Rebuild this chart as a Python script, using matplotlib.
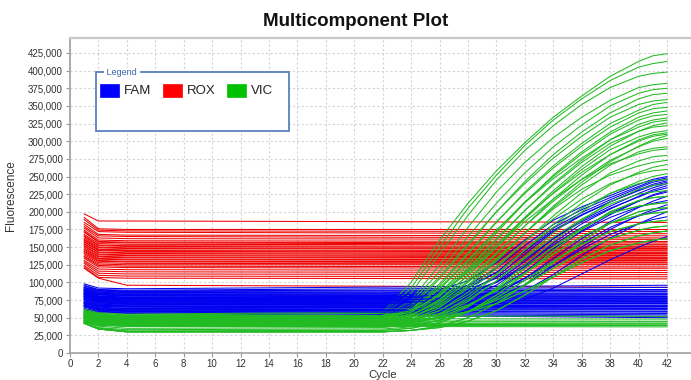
import numpy as np
import matplotlib
matplotlib.use("Agg")
import matplotlib.pyplot as plt
from matplotlib.patches import Rectangle
from matplotlib.ticker import FuncFormatter

plt.rcParams['font.family'] = ['Liberation Sans', 'DejaVu Sans']

# cycles where each trace has a reading; fluorescence values are in thousands
flat_cycles = [1, 2, 4, 42]
amp_cycles = [1, 2, 4, 22, 24, 26, 28, 30, 32, 34, 36, 38, 40, 41, 42]

rox_flat = [
    [197, 187, 187, 185], [192, 176, 175, 175], [189, 174, 173, 172],
    [185, 172, 171, 169], [182, 168, 167, 166], [179, 166, 165, 163],
    [177, 163, 162, 161], [174, 160, 159, 158], [172, 158, 157, 156],
    [171, 157, 156, 154], [168, 155, 154, 153], [166, 153, 152, 151],
    [165, 152, 151, 149], [163, 150, 149, 148], [161, 149, 148, 147],
    [160, 147, 146, 145], [158, 146, 145, 143], [157, 145, 144, 142],
    [155, 143, 142, 141], [154, 142, 141, 139], [152, 140, 139, 138],
    [151, 139, 138, 136], [149, 137, 136, 135], [147, 136, 135, 134],
    [146, 134, 133, 132], [144, 133, 132, 131], [143, 131, 130, 129],
    [141, 130, 129, 128], [139, 128, 127, 126], [137, 126, 125, 125],
    [136, 124, 123, 122], [134, 122, 121, 120], [131, 119, 118, 117],
    [129, 116, 115, 114], [127, 113, 112, 111], [124, 110, 109, 108],
    [122, 107, 106, 105], [120, 106, 96, 93],
]

fam_flat = [
    [98, 92, 91, 96], [96, 90, 89, 93], [95, 89, 88, 90], [93, 88, 87, 89],
    [92, 87, 86, 87], [91, 86, 85, 85], [90, 84, 84, 83], [89, 84, 83, 84],
    [88, 83, 82, 81], [87, 82, 81, 80], [86, 80, 79, 79], [85, 80, 79, 77],
    [84, 79, 78, 78], [83, 78, 77, 76], [82, 77, 76, 74], [81, 76, 75, 75],
    [80, 75, 74, 73], [79, 74, 73, 72], [78, 73, 72, 71], [77, 72, 71, 70],
    [76, 71, 70, 70], [75, 70, 69, 68], [74, 69, 68, 67], [73, 68, 67, 66],
    [72, 67, 66, 66], [71, 66, 65, 64], [70, 66, 65, 63], [69, 64, 63, 62],
    [68, 63, 62, 61], [67, 62, 61, 59], [66, 61, 60, 58], [65, 60, 59, 56],
    [63, 59, 58, 54], [62, 58, 57, 52], [61, 57, 56, 50],
]

vic_flat = [
    [58, 54, 53, 52], [55, 50, 49, 48], [52, 47, 46, 45], [50, 45, 44, 44],
    [48, 43, 42, 42], [46, 42, 41, 40], [45, 40, 39, 39], [44, 39, 38, 37],
]

fam_amp = [
    [93, 88, 86, 85, 86, 90, 102, 128, 160, 188, 207, 223, 239, 246, 250],
    [88, 83, 81, 80, 81, 85, 96, 120, 152, 182, 203, 220, 236, 244, 248],
    [86, 81, 79, 78, 79, 82, 92, 114, 146, 177, 199, 217, 234, 242, 246],
    [83, 78, 76, 75, 76, 79, 88, 108, 140, 172, 195, 214, 231, 239, 244],
    [90, 85, 83, 82, 83, 86, 95, 114, 144, 174, 196, 214, 230, 237, 242],
    [80, 75, 73, 72, 73, 75, 83, 101, 130, 162, 188, 208, 226, 234, 240],
    [78, 73, 71, 70, 71, 73, 80, 96, 124, 156, 183, 204, 222, 231, 237],
    [85, 80, 78, 77, 78, 81, 89, 106, 133, 162, 186, 205, 221, 229, 234],
    [76, 71, 69, 68, 68, 70, 76, 90, 115, 145, 173, 196, 215, 224, 230],
    [82, 77, 75, 74, 75, 77, 84, 100, 125, 153, 178, 198, 215, 223, 228],
    [72, 68, 66, 65, 65, 67, 72, 84, 106, 134, 162, 186, 206, 215, 222],
    [88, 83, 81, 80, 80, 82, 87, 100, 122, 148, 172, 192, 207, 212, 216],
    [70, 65, 63, 62, 62, 64, 68, 78, 97, 123, 150, 175, 195, 203, 210],
    [80, 75, 73, 72, 72, 74, 78, 88, 106, 130, 155, 178, 194, 200, 205],
    [67, 63, 61, 60, 60, 61, 64, 72, 88, 111, 138, 163, 183, 192, 200],
    [84, 79, 77, 76, 76, 77, 80, 88, 103, 124, 147, 168, 183, 189, 193],
    [66, 61, 59, 58, 58, 59, 61, 66, 76, 92, 112, 132, 150, 158, 165],
]

vic_amp = [
    [62, 57, 55, 58, 100, 160, 212, 258, 298, 334, 364, 392, 413, 421, 424],
    [60, 56, 54, 56, 92, 150, 205, 252, 294, 330, 360, 386, 405, 410, 413],
    [58, 54, 52, 53, 85, 140, 195, 245, 287, 322, 352, 376, 392, 396, 398],
    [57, 52, 50, 51, 75, 125, 178, 228, 270, 305, 334, 358, 376, 380, 382],
    [59, 54, 52, 53, 72, 115, 165, 212, 255, 292, 323, 350, 368, 373, 375],
    [55, 50, 48, 49, 65, 105, 152, 200, 243, 281, 313, 340, 360, 366, 368],
    [57, 52, 50, 50, 68, 108, 155, 200, 240, 276, 307, 334, 352, 357, 359],
    [53, 48, 46, 46, 60, 95, 140, 185, 228, 265, 297, 325, 344, 352, 355],
    [55, 50, 48, 48, 62, 98, 142, 186, 226, 262, 293, 320, 340, 346, 348],
    [52, 47, 45, 45, 56, 85, 125, 170, 213, 252, 285, 313, 334, 340, 343],
    [57, 52, 50, 50, 60, 90, 130, 173, 214, 250, 282, 310, 330, 336, 338],
    [54, 49, 47, 47, 55, 80, 118, 160, 202, 240, 273, 302, 324, 330, 333],
    [59, 54, 52, 52, 62, 92, 132, 174, 213, 247, 276, 302, 320, 327, 330],
    [50, 46, 44, 44, 52, 75, 110, 150, 192, 230, 264, 293, 314, 322, 326],
    [56, 51, 49, 49, 58, 84, 120, 162, 202, 238, 270, 297, 314, 320, 322],
    [53, 48, 46, 46, 53, 76, 110, 150, 190, 227, 260, 288, 306, 312, 315],
    [49, 45, 43, 43, 50, 70, 102, 140, 180, 218, 252, 281, 302, 309, 312],
    [57, 52, 50, 50, 58, 82, 116, 154, 192, 226, 256, 281, 300, 307, 310],
    [47, 43, 41, 41, 47, 64, 94, 130, 170, 208, 242, 271, 293, 302, 308],
    [54, 49, 47, 47, 54, 74, 105, 142, 180, 215, 246, 273, 292, 300, 304],
    [50, 46, 44, 44, 50, 68, 96, 132, 170, 206, 238, 266, 285, 290, 292],
    [60, 55, 52, 52, 60, 82, 114, 150, 186, 218, 246, 268, 282, 287, 289],
    [46, 42, 40, 40, 45, 60, 86, 120, 158, 194, 227, 255, 272, 278, 280],
    [55, 50, 48, 48, 54, 72, 100, 134, 170, 204, 232, 252, 265, 270, 273],
    [45, 40, 38, 38, 42, 55, 78, 110, 146, 182, 212, 238, 256, 263, 267],
    [53, 48, 46, 46, 51, 66, 91, 123, 158, 190, 218, 240, 254, 258, 260],
    [44, 38, 35, 36, 40, 52, 73, 102, 136, 170, 200, 226, 243, 250, 254],
    [51, 46, 44, 44, 48, 60, 82, 112, 146, 178, 205, 226, 240, 244, 246],
    [43, 36, 33, 34, 37, 47, 65, 92, 125, 158, 188, 214, 232, 237, 240],
    [49, 44, 42, 42, 46, 56, 75, 102, 134, 164, 190, 211, 225, 228, 230],
    [43, 35, 31, 32, 35, 43, 58, 82, 112, 145, 175, 200, 216, 220, 222],
    [47, 42, 40, 40, 43, 51, 66, 90, 120, 150, 177, 198, 208, 211, 213],
    [42, 34, 30, 30, 32, 38, 50, 70, 97, 128, 158, 184, 200, 204, 206],
    [52, 47, 45, 45, 48, 55, 68, 88, 113, 140, 165, 184, 195, 198, 200],
    [44, 40, 38, 38, 40, 46, 58, 78, 103, 130, 154, 172, 183, 186, 188],
    [49, 44, 42, 42, 44, 49, 59, 75, 96, 120, 143, 162, 174, 178, 180],
    [42, 34, 30, 30, 32, 36, 45, 60, 82, 108, 133, 153, 166, 170, 173],
    [51, 46, 44, 44, 46, 50, 58, 70, 88, 108, 128, 145, 156, 160, 162],
]

dyes = ['FAM', 'ROX', 'VIC']
dye_colors = {'FAM': '#0000f0', 'ROX': '#ee0000', 'VIC': '#22bb22'}
legend_colors = {'FAM': '#0000ff', 'ROX': '#ff0000', 'VIC': '#00c000'}

W, H = 691, 380
fig = plt.figure(figsize=(W / 100, H / 100), dpi=100)
ax = fig.add_axes([70 / W, 27 / H, 621 / W, 315 / H])

lw = 0.75
for row in rox_flat:
    ax.plot(flat_cycles, np.array(row) * 1000, color=dye_colors['ROX'], lw=lw)
for row in fam_flat:
    ax.plot(flat_cycles, np.array(row) * 1000, color=dye_colors['FAM'], lw=lw)
for row in vic_flat:
    ax.plot(flat_cycles, np.array(row) * 1000, color=dye_colors['VIC'], lw=lw)
for i in range(max(len(fam_amp), len(vic_amp))):
    if i < len(fam_amp):
        ax.plot(amp_cycles, np.array(fam_amp[i]) * 1000, color=dye_colors['FAM'], lw=lw)
    if i < len(vic_amp):
        ax.plot(amp_cycles, np.array(vic_amp[i]) * 1000, color=dye_colors['VIC'], lw=lw)
# late greens drawn again so they cross over the blue traces
for row in vic_amp[-8:]:
    ax.plot(amp_cycles, np.array(row) * 1000, color=dye_colors['VIC'], lw=lw)

ax.set_xlim(0, 43.69)
ax.set_ylim(0, 446250)
ax.set_xticks(np.arange(0, 43, 2))
ax.set_yticks(np.arange(0, 425001, 25000))
ax.yaxis.set_major_formatter(FuncFormatter(lambda v, p: f'{v:,.0f}'))
ax.grid(True, color='#d4d4d4', linestyle=(0, (2, 2)), linewidth=0.8)
ax.set_axisbelow(True)
ax.tick_params(length=3, width=0.8, color='#9a9a9a', labelsize=7,
               labelcolor='#333333', pad=2)
ax.tick_params(axis='x', pad=1.5)
for s in ['left', 'bottom']:
    ax.spines[s].set_color('#a0a0a0')
    ax.spines[s].set_linewidth(1.2)
ax.spines['top'].set_color('#c8c8c8')
ax.spines['top'].set_linewidth(1.6)
ax.spines['right'].set_visible(False)

ax.set_ylabel('Fluorescence', fontsize=8.5, color='#333333', labelpad=8)
# x label sits right at the bottom edge
fig.text(382.5 / W, 2.5 / H, 'Cycle', ha='center', va='baseline',
         fontsize=8.2, color='#333333')
fig.text(355.5 / W, 1 - 22 / H, 'Multicomponent Plot', ha='center', va='center',
         fontsize=13.5, fontweight='bold', color='#111111')

# legend box drawn as a framed group
def fx(px):
    return px / W

def fy(py):
    return 1 - py / H

fig.add_artist(Rectangle((fx(96), fy(131)), fx(289) - fx(96), fy(72) - fy(131),
                         transform=fig.transFigure, facecolor='white',
                         edgecolor='#5b80c0', lw=1.3, zorder=5))
fig.text(fx(104), fy(72.5), ' Legend ', fontsize=6.5, color='#3b62aa', va='center',
         ha='left', zorder=6,
         bbox=dict(facecolor='white', edgecolor='none', pad=0.2))
patch_x = [100, 163, 227]
for name, px in zip(dyes, patch_x):
    fig.add_artist(Rectangle((fx(px), fy(97)), fx(19), 13 / H, transform=fig.transFigure,
                             facecolor=legend_colors[name], edgecolor=legend_colors[name],
                             lw=0.5, zorder=6))
    fig.text(fx(px + 24), fy(91), name, fontsize=9.5, color='#222222',
             va='center', ha='left', zorder=6)

fig.savefig('out.png', dpi=100)
